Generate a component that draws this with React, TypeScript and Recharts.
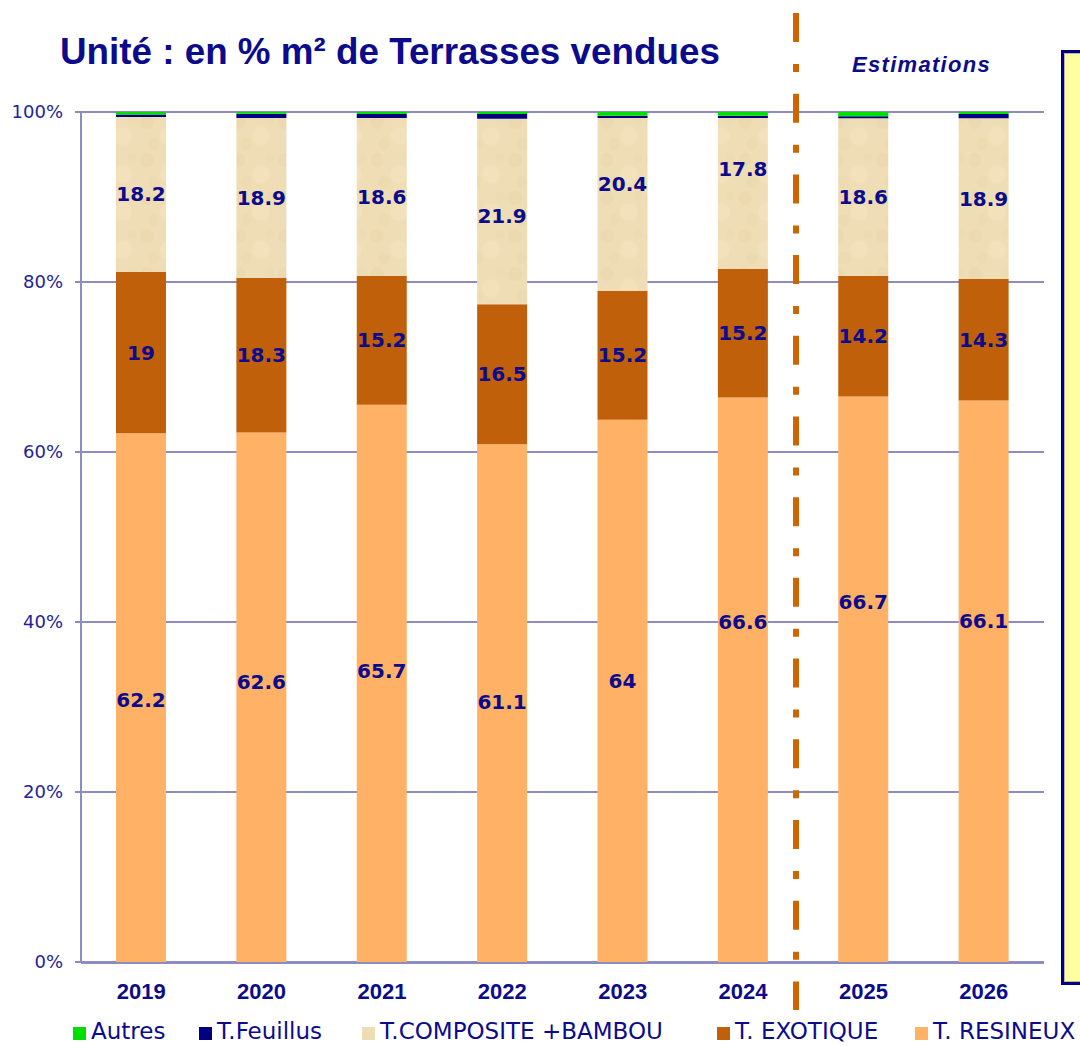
import { BarChart, Bar, XAxis, YAxis, CartesianGrid, ReferenceLine, LabelList } from "recharts";

const years = ["2019", "2020", "2021", "2022", "2023", "2024", "2025", "2026"];
const resineux = [62.2, 62.6, 65.7, 61.1, 64, 66.6, 66.7, 66.1];
const exotique = [19, 18.3, 15.2, 16.5, 15.2, 15.2, 14.2, 14.3];
const composite = [18.2, 18.9, 18.6, 21.9, 20.4, 17.8, 18.6, 18.9];
const feuillus = [0.3, 0.5, 0.45, 0.55, 0.25, 0.25, 0.25, 0.5];
const autres = [0.3, 0.2, 0.25, 0.25, 0.45, 0.45, 0.5, 0.25];
const yTicks = [0, 0.2, 0.4, 0.6, 0.8, 1];
const boundaryTicks = [0, 1, 2, 3, 4, 5, 6, 7, 8];

// labels in the original were nudged by hand in a few bars
const resineuxLabelShift = [2, -15, -12, -1, -10, -58, -77, -60];
const compositeLabelShift = [0, 0, 0, 4, -20, -24, 0, 0];

const NAVY = "#0B0B8C";
const GRID = "#8C8CC0";

const legendItems = [
  { name: "Autres", color: "#00E000", left: 73 },
  { name: "T.Feuillus", color: "#000080", left: 199 },
  { name: "T.COMPOSITE +BAMBOU", color: "#EEDCB5", left: 362 },
  { name: "T. EXOTIQUE", color: "#C0600A", left: 717 },
  { name: "T. RESINEUX", color: "#FFB166", left: 915 },
];

const data = years.map((year, i) => ({
  year,
  pos: i + 0.5,
  resineux: resineux[i],
  exotique: exotique[i],
  composite: composite[i],
  feuillus: feuillus[i],
  autres: autres[i],
}));

const segLabel = (shift: number[]) => (props: any) => {
  const { x, y, width, height, value, index } = props;
  return (
    <text
      x={Number(x) + Number(width) / 2}
      y={Number(y) + Number(height) / 2 + (shift[index] ?? 0)}
      textAnchor="middle"
      dominantBaseline="central"
      fill={NAVY}
      fontFamily="DejaVu Sans"
      fontWeight="bold"
      fontSize={20}
    >
      {value}
    </text>
  );
};

export default function App() {
  return (
    <div
      style={{
        position: "absolute",
        left: 0,
        top: 0,
        width: 1080,
        height: 1046,
        overflow: "hidden",
        background: "#fff",
      }}
    >
      <div
        style={{
          position: "absolute",
          left: 60,
          top: 31,
          fontFamily: "Liberation Sans",
          fontWeight: "bold",
          fontSize: 36.8,
          lineHeight: "normal",
          color: NAVY,
          whiteSpace: "nowrap",
        }}
      >
        Unité : en % m² de Terrasses vendues
      </div>
      <div
        style={{
          position: "absolute",
          left: 852,
          top: 52,
          fontFamily: "Liberation Sans",
          fontWeight: "bold",
          fontStyle: "italic",
          fontSize: 22,
          letterSpacing: 1.3,
          color: NAVY,
          whiteSpace: "nowrap",
        }}
      >
        Estimations
      </div>
      <div
        style={{
          position: "absolute",
          left: 1061,
          top: 50,
          width: 60,
          height: 929,
          background: "#FFFF9F",
          border: "3px solid #000080",
          boxShadow: "inset 0 0 0 1px #B8B8A0",
        }}
      />

      <BarChart
        width={1080}
        height={1046}
        data={data}
        stackOffset="expand"
        barSize={50}
        margin={{ top: 112, right: 36, bottom: 43, left: 21 }}
        style={{ position: "absolute", left: 0, top: 0 }}
      >
        <defs>
          <pattern id="papyrus" width="46" height="38" patternUnits="userSpaceOnUse">
            <rect width="46" height="38" fill="#EFDDB6" />
            <circle cx="9" cy="8" r="7" fill="#E2CB9A" opacity="0.25" />
            <circle cx="31" cy="22" r="9" fill="#F6E7C6" opacity="0.35" />
            <circle cx="16" cy="30" r="6" fill="#E4CEA0" opacity="0.25" />
            <circle cx="40" cy="6" r="5" fill="#E7D3A8" opacity="0.25" />
          </pattern>
        </defs>
        <CartesianGrid vertical={false} stroke={GRID} strokeWidth={2} />
        <XAxis
          dataKey="year"
          height={1}
          axisLine={false}
          tickLine={false}
          tickSize={0}
          tickMargin={21}
          tick={{ fill: NAVY, fontFamily: "Liberation Sans", fontWeight: "bold", fontSize: 22 }}
        />
        <XAxis
          xAxisId="b"
          dataKey="pos"
          type="number"
          domain={[0, 8]}
          ticks={boundaryTicks}
          tick={false}
          height={40}
          stroke={GRID}
          strokeWidth={2}
          tickSize={6}
        />
        <YAxis
          width={60}
          domain={[0, 1]}
          ticks={yTicks}
          tickFormatter={(v: number) => `${Math.round(v * 100)}%`}
          stroke={GRID}
          strokeWidth={2}
          tickSize={6}
          tickMargin={12}
          tick={{ fill: "#22229A", fontFamily: "DejaVu Sans", fontSize: 18 }}
        />
        <Bar dataKey="resineux" stackId="s" fill="#FFB166" isAnimationActive={false}>
          <LabelList dataKey="resineux" content={segLabel(resineuxLabelShift)} />
        </Bar>
        <Bar dataKey="exotique" stackId="s" fill="#C0600A" isAnimationActive={false}>
          <LabelList dataKey="exotique" content={segLabel([])} />
        </Bar>
        <Bar dataKey="composite" stackId="s" fill="url(#papyrus)" isAnimationActive={false}>
          <LabelList dataKey="composite" content={segLabel(compositeLabelShift)} />
        </Bar>
        <Bar dataKey="feuillus" stackId="s" fill="#000080" isAnimationActive={false} />
        <Bar dataKey="autres" stackId="s" fill="#00E000" isAnimationActive={false} />
        <ReferenceLine
          xAxisId="b"
          segment={[
            { x: 5.94, y: 1.1165 },
            { x: 5.94, y: -0.0565 },
          ]}
          ifOverflow="visible"
          stroke="#CC6600"
          strokeWidth={6}
          strokeDasharray="29 22 8 21.7"
        />
      </BarChart>

      {legendItems.map((item) => (
        <div
          key={item.name}
          style={{
            position: "absolute",
            left: item.left,
            top: 1015,
            height: 31,
            display: "flex",
            alignItems: "center",
            fontFamily: "DejaVu Sans",
            fontSize: 23,
            color: NAVY,
            whiteSpace: "nowrap",
          }}
        >
          <span
            style={{
              display: "inline-block",
              width: 13,
              height: 13,
              background: item.color,
              marginRight: 5,
              marginTop: 5,
            }}
          />
          <span>{item.name}</span>
        </div>
      ))}
    </div>
  );
}
